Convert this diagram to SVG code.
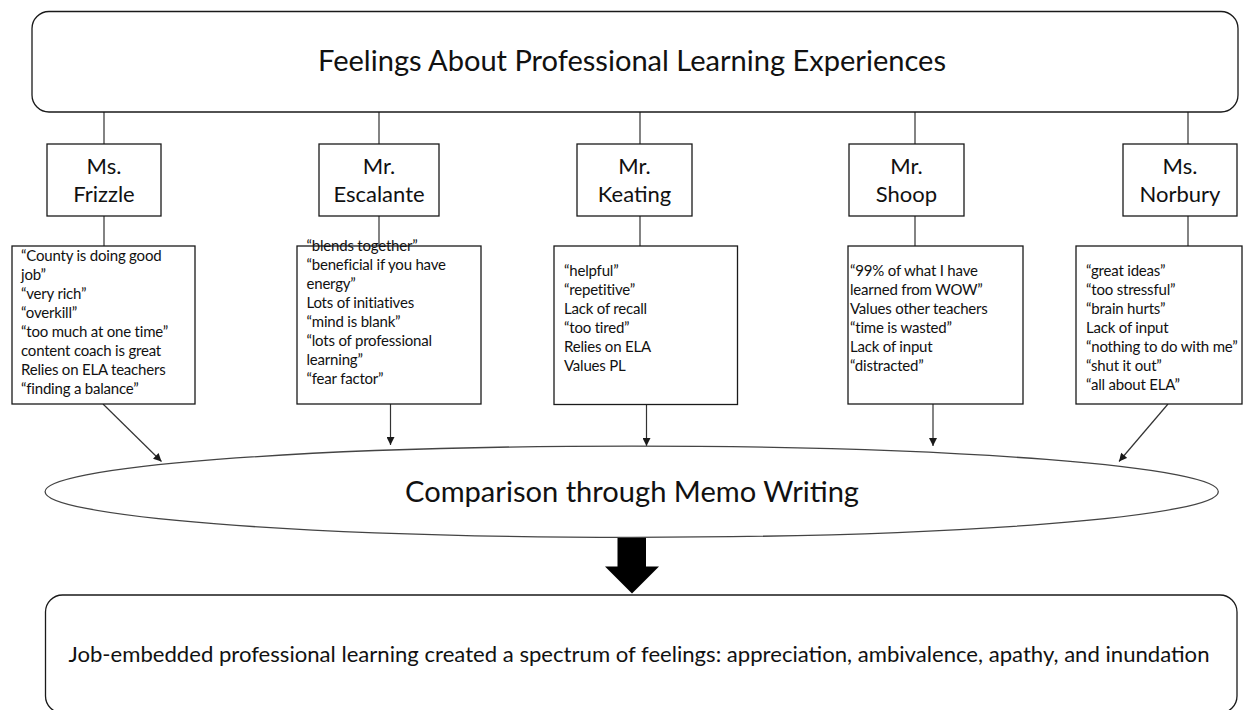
<svg xmlns="http://www.w3.org/2000/svg" width="1256" height="710" viewBox="0 0 1256 710">
<style>
.bx{fill:#fff;stroke:#1a1a1a;stroke-width:1.3}
.t{font-family:Lato,"Open Sans","Liberation Sans",sans-serif;fill:#111}
.nm{font-size:22px;text-anchor:middle}
.sm{font-size:15px;letter-spacing:-0.2px}
.cn{stroke:#333;stroke-width:1.2;fill:none}
.ar{stroke:#333;stroke-width:1.2;fill:none;marker-end:url(#ah)}
</style>
<defs>
<marker id="ah" viewBox="0 0 10 10" refX="10" refY="5" markerWidth="9" markerHeight="8" markerUnits="userSpaceOnUse" orient="auto">
<path d="M0,0 L10,5 L0,10 z" fill="#1a1a1a"/>
</marker>
</defs>
<rect width="1256" height="710" fill="#fff"/>
<g id="connectors">
<path class="cn" d="M104,112V144M104,216V246"/>
<path class="cn" d="M379,112V144M379,216V246"/>
<path class="cn" d="M640,112V144M640,216V246"/>
<path class="cn" d="M915,112V144M915,216V246"/>
<path class="cn" d="M1188,112V144M1188,216V246"/>
<path class="ar" d="M103,404L161.5,461.5"/>
<path class="ar" d="M390.5,404V445"/>
<path class="ar" d="M646.5,404.5V446"/>
<path class="ar" d="M933,404V446"/>
<path class="ar" d="M1168,404L1119,461.5"/>
<polygon points="617.5,537 646,537 646,566.5 659,566.5 632,593.5 605,566.5 617.5,566.5" fill="#000"/>
</g>
<g id="title">
<rect class="bx" x="32" y="11.5" width="1206" height="100.5" rx="17"/>
<text class="t" x="632" y="71" font-size="28" text-anchor="middle" textLength="628" lengthAdjust="spacingAndGlyphs">Feelings About Professional Learning Experiences</text>
</g>
<g id="frizzle">
<rect class="bx" x="47" y="144" width="114" height="72"/>
<text class="t nm" x="104" y="174">Ms.</text>
<text class="t nm" x="104" y="202">Frizzle</text>
</g>
<g id="escalante">
<rect class="bx" x="319" y="144" width="120" height="72"/>
<text class="t nm" x="379" y="174">Mr.</text>
<text class="t nm" x="379" y="202">Escalante</text>
</g>
<g id="keating">
<rect class="bx" x="577" y="144" width="115" height="72"/>
<text class="t nm" x="634.5" y="174">Mr.</text>
<text class="t nm" x="634.5" y="202">Keating</text>
</g>
<g id="shoop">
<rect class="bx" x="849" y="144" width="115" height="72"/>
<text class="t nm" x="906.5" y="174">Mr.</text>
<text class="t nm" x="906.5" y="202">Shoop</text>
</g>
<g id="norbury">
<rect class="bx" x="1123" y="144" width="114" height="72"/>
<text class="t nm" x="1180" y="174">Ms.</text>
<text class="t nm" x="1180" y="202">Norbury</text>
</g>
<g id="frizzle-notes">
<rect class="bx" x="12" y="246" width="183" height="158"/>
<text class="t sm" x="21" y="260.5">
<tspan x="21">“County is doing good</tspan>
<tspan x="21" dy="19.1">job”</tspan>
<tspan x="21" dy="19.1">“very rich”</tspan>
<tspan x="21" dy="19.1">“overkill”</tspan>
<tspan x="21" dy="19.1">“too much at one time”</tspan>
<tspan x="21" dy="19.1">content coach is great</tspan>
<tspan x="21" dy="19.1">Relies on ELA teachers</tspan>
<tspan x="21" dy="19.1">“finding a balance”</tspan>
</text>
</g>
<g id="escalante-notes">
<rect class="bx" x="297" y="246" width="184" height="158"/>
<text class="t sm" x="306.5" y="250.5">
<tspan x="306.5">“blends together”</tspan>
<tspan x="306.5" dy="19.1">“beneficial if you have</tspan>
<tspan x="306.5" dy="19.1">energy”</tspan>
<tspan x="306.5" dy="19.1">Lots of initiatives</tspan>
<tspan x="306.5" dy="19.1">“mind is blank”</tspan>
<tspan x="306.5" dy="19.1">“lots of professional</tspan>
<tspan x="306.5" dy="19.1">learning”</tspan>
<tspan x="306.5" dy="19.1">“fear factor”</tspan>
</text>
</g>
<g id="keating-notes">
<rect class="bx" x="554" y="246" width="183.5" height="158.5"/>
<text class="t sm" x="564" y="275.5">
<tspan x="564">“helpful”</tspan>
<tspan x="564" dy="19.1">“repetitive”</tspan>
<tspan x="564" dy="19.1">Lack of recall</tspan>
<tspan x="564" dy="19.1">“too tired”</tspan>
<tspan x="564" dy="19.1">Relies on ELA</tspan>
<tspan x="564" dy="19.1">Values PL</tspan>
</text>
</g>
<g id="shoop-notes">
<rect class="bx" x="848" y="246" width="175" height="158"/>
<text class="t sm" x="850" y="275.5">
<tspan x="850">“99% of what I have</tspan>
<tspan x="850" dy="19.1">learned from WOW”</tspan>
<tspan x="850" dy="19.1">Values other teachers</tspan>
<tspan x="850" dy="19.1">“time is wasted”</tspan>
<tspan x="850" dy="19.1">Lack of input</tspan>
<tspan x="850" dy="19.1">“distracted”</tspan>
</text>
</g>
<g id="norbury-notes">
<rect class="bx" x="1076" y="246" width="166" height="158"/>
<text class="t sm" x="1086" y="275.5">
<tspan x="1086">“great ideas”</tspan>
<tspan x="1086" dy="19.1">“too stressful”</tspan>
<tspan x="1086" dy="19.1">“brain hurts”</tspan>
<tspan x="1086" dy="19.1">Lack of input</tspan>
<tspan x="1086" dy="19.1">“nothing to do with me”</tspan>
<tspan x="1086" dy="19.1">“shut it out”</tspan>
<tspan x="1086" dy="19.1">“all about ELA”</tspan>
</text>
</g>
<g id="comparison">
<ellipse cx="631.7" cy="491.7" rx="586.6" ry="45.6" fill="#fff" stroke="#444" stroke-width="1.3"/>
<text class="t" x="632" y="502" font-size="28" text-anchor="middle" textLength="454" lengthAdjust="spacingAndGlyphs">Comparison through Memo Writing</text>
</g>
<g id="result">
<rect class="bx" x="45.5" y="595" width="1191.5" height="118" rx="17"/>
<text class="t" x="68.5" y="662" font-size="21.5" textLength="1141" lengthAdjust="spacingAndGlyphs">Job-embedded professional learning created a spectrum of feelings: appreciation, ambivalence, apathy, and inundation</text>
</g>
</svg>
